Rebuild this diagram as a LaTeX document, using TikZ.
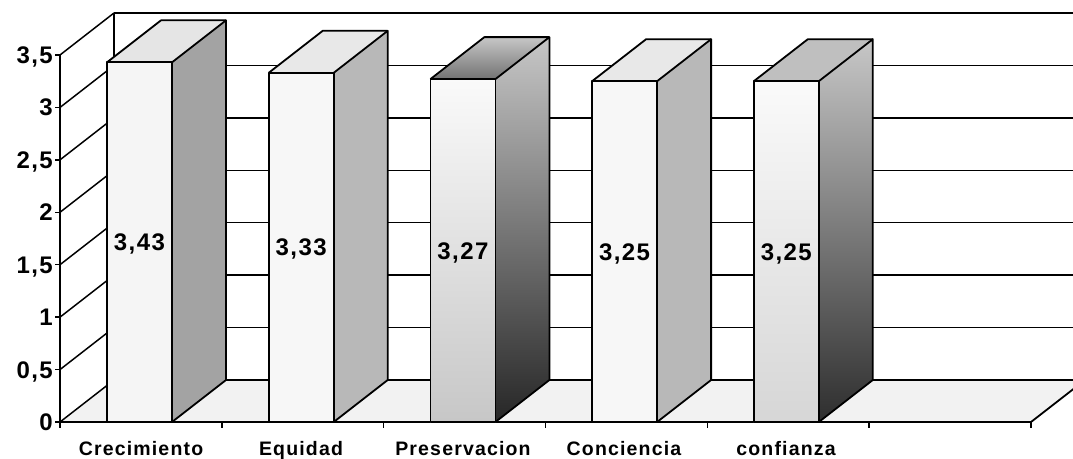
\documentclass[tikz,border=0pt]{standalone}
\usepackage{fontspec}
\setmainfont{Liberation Sans}
\newfontfamily\lblfont[LetterSpace=6,UprightFont={Liberation Sans Bold},BoldFont={Liberation Sans Bold}]{Liberation Sans}
\newcommand\chartbar[5]{%
  \pgfmathsetmacro\bl{#1-32.5}%
  \pgfmathsetmacro\br{#1+32.5}%
  \pgfmathsetmacro\bt{422-#2*104.86}%
  \path[#3] (\bl,422) rectangle (\br,\bt);
  \path[#4] (\br,422) -- (\br+54,380) -- (\br+54,\bt-42) -- (\br,\bt) -- cycle;
  \path[#5] (\bl,\bt) -- (\br,\bt) -- (\br+54,\bt-42) -- (\bl+54,\bt-42) -- cycle;
  \draw[edge] (\bl,422) rectangle (\br,\bt);
  \draw[edge] (\br,422) -- (\br+54,380) -- (\br+54,\bt-42) -- (\br,\bt);
  \draw[edge] (\bl,\bt) -- (\bl+54,\bt-42) -- (\br+54,\bt-42);
}
\begin{document}
\begin{tikzpicture}[x=1pt,y=-1pt,
  edge/.style={draw=black,line width=1.8pt,line join=round},
  grid/.style={draw=black,line width=1.5pt},
  ylab/.style={font=\lblfont\fontsize{24}{24}\selectfont,inner sep=0pt,anchor=base east},
  vlab/.style={font=\lblfont\fontsize{24}{24}\selectfont,inner sep=0pt,anchor=base},
  xlab/.style={font=\lblfont\fontsize{19.5}{19.5}\selectfont,inner sep=0pt,anchor=base}]
\useasboundingbox (0,0) rectangle (1073,458);
\fill[white] (0,0) rectangle (1073,458);
\begin{scope}
\clip (0,0) rectangle (1073,458);
% floor
\fill[black!5] (60,422) -- (1031,422) -- (1085,380) -- (114,380) -- cycle;
% back wall grid lines
\foreach \k in {0,...,7} \draw[grid] (114,{380-\k*52.43}) -- (1100,{380-\k*52.43});
% left wall grid lines
\foreach \k in {0,...,7} \draw[grid] (60,{422-\k*52.43}) -- (114,{380-\k*52.43});
\draw[grid] (114,13) -- (114,380);
% front axes
\draw[edge] (60,55) -- (60,422) -- (1031,422) -- (1085,380);
\foreach \k in {0,...,7} \draw[grid] (55,{422-\k*52.43}) -- (60,{422-\k*52.43});
\foreach \k in {0,...,6} \draw[grid] ({60+\k*161.83},422) -- ({60+\k*161.83},428);
% bars
\chartbar{139.5}{3.43}{fill=black!4}{fill=black!36}{fill=black!10}
\chartbar{301.2}{3.33}{fill=black!3}{fill=black!28}{fill=black!9}
\chartbar{462.9}{3.27}{top color=black!2,bottom color=black!22}{top color=black!22,bottom color=black!85}{top color=black!22,bottom color=black!55}
\chartbar{624.6}{3.25}{fill=black!3}{fill=black!28}{fill=black!9}
\chartbar{786.3}{3.25}{top color=black!2,bottom color=black!16}{top color=black!22,bottom color=black!82}{fill=black!25}
\end{scope}
% axis labels
\node[ylab] (y0) at (53,{422+8.5}) {0};
\node[ylab] (y1) at (53,{422-52.43+8.5}) {0,5};
\node[ylab] (y2) at (53,{422-2*52.43+8.5}) {1};
\node[ylab] (y3) at (53,{422-3*52.43+8.5}) {1,5};
\node[ylab] (y4) at (53,{422-4*52.43+8.5}) {2};
\node[ylab] (y5) at (53,{422-5*52.43+8.5}) {2,5};
\node[ylab] (y6) at (53,{422-6*52.43+8.5}) {3};
\node[ylab] (y7) at (53,{422-7*52.43+8.5}) {3,5};
% value labels
\node[vlab] (v1) at (139.5,{422-3.43*52.43+8.5}) {3,43};
\node[vlab] (v2) at (301.2,{422-3.33*52.43+8.5}) {3,33};
\node[vlab] (v3) at (462.9,{422-3.27*52.43+8.5}) {3,27};
\node[vlab] (v4) at (624.6,{422-3.25*52.43+8.5}) {3,25};
\node[vlab] (v5) at (786.3,{422-3.25*52.43+8.5}) {3,25};
% category labels
\node[xlab] (c1) at (141,455) {Crecimiento};
\node[xlab] (c2) at (301,455) {Equidad};
\node[xlab] (c3) at (463,455) {Preservacion};
\node[xlab] (c4) at (624,455) {Conciencia};
\node[xlab] (c5) at (786,455) {confianza};
\end{tikzpicture}
\end{document}
